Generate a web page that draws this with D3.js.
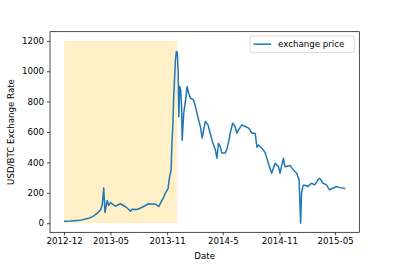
<!DOCTYPE html>
<html>
<head>
<meta charset="utf-8">
<script src="https://cdn.jsdelivr.net/npm/d3@7"></script>
<style>
  body { margin: 0; background: #fff; }
  text { font-family: "DejaVu Sans", sans-serif; }
</style>
</head>
<body>
<div id="holder"></div>
<script>
const w = 399;
const h = 266;

// Chart data
const dates = [
  "2012-12-01", "2012-12-23", "2013-01-24", "2013-02-19", "2013-03-08", "2013-03-19",
  "2013-03-30", "2013-04-04", "2013-04-09", "2013-04-13", "2013-04-20", "2013-04-25",
  "2013-05-01", "2013-05-17", "2013-06-02", "2013-06-19", "2013-06-24", "2013-07-05",
  "2013-07-10", "2013-07-27", "2013-08-12", "2013-09-02", "2013-09-24", "2013-10-05",
  "2013-10-10", "2013-10-21", "2013-10-26", "2013-11-04", "2013-11-09", "2013-11-14",
  "2013-11-17", "2013-11-20", "2013-11-22", "2013-11-25", "2013-11-28", "2013-12-01",
  "2013-12-04", "2013-12-07", "2013-12-09", "2013-12-12", "2013-12-15", "2013-12-18",
  "2013-12-20", "2013-12-25", "2013-12-31", "2014-01-05", "2014-01-10", "2014-01-16",
  "2014-01-26", "2014-02-01", "2014-02-10", "2014-02-17", "2014-02-23", "2014-02-28",
  "2014-03-05", "2014-03-14", "2014-03-21", "2014-03-27", "2014-04-01", "2014-04-07",
  "2014-04-12", "2014-04-17", "2014-04-23", "2014-04-28", "2014-05-09", "2014-05-15",
  "2014-05-20", "2014-05-25", "2014-06-02", "2014-06-10", "2014-06-16", "2014-06-21",
  "2014-07-02", "2014-07-13", "2014-07-24", "2014-08-04", "2014-08-14", "2014-08-20",
  "2014-08-25", "2014-09-10", "2014-09-16", "2014-09-26", "2014-10-07", "2014-10-18",
  "2014-10-29", "2014-11-03", "2014-11-14", "2014-11-19", "2014-12-06", "2014-12-16",
  "2014-12-27", "2015-01-04", "2015-01-09", "2015-01-12", "2015-01-17", "2015-01-22",
  "2015-02-02", "2015-02-13", "2015-02-24", "2015-03-06", "2015-03-12", "2015-03-23",
  "2015-04-03", "2015-04-13", "2015-04-24", "2015-05-05", "2015-05-16", "2015-06-03"
];
const prices = [
  13, 14, 20, 32, 48, 66,
  88, 120, 232, 70, 149, 118,
  135, 112, 128, 108, 100, 78,
  92, 90, 105, 128, 125, 110,
  130, 172, 197, 228, 305, 350,
  548, 658, 811, 943, 1074, 1129,
  1127, 989, 700, 900, 877, 767,
  545, 724, 811, 899, 855, 822,
  811, 767, 691, 635, 559, 614,
  669, 647, 592, 548, 515, 482,
  427, 526, 504, 461, 461, 493,
  537, 592, 658, 636, 592, 614,
  647, 636, 625, 592, 592, 500,
  515, 482, 461, 395, 329, 395,
  372, 329, 427, 372, 380, 351,
  329, 285, 0, 197, 250, 250,
  241, 263, 252, 285, 296, 263,
  252, 219, 230, 241, 234, 228
];

// highlighted period
const spanStart = "2012-12-01";
const spanEnd = "2013-12-04";
const spanLow = 0;
const spanHigh = 1200;

const yTicks = [0, 200, 400, 600, 800, 1000, 1200];
const xTickDates = ["2012-12-01", "2013-05-01", "2013-11-01", "2014-05-01", "2014-11-01", "2015-05-01"];
const xTickLabels = ["2012-12", "2013-05", "2013-11", "2014-5", "2014-11", "2015-05"];

const parse = d3.timeParse("%Y-%m-%d");
const data = dates.map((d, i) => ({ date: parse(d), price: prices[i] }));

// plot area
const mLeft = 50, mRight = 359.3, mTop = 31.7, mBottom = 232.3;
const fs = 8.66;

const svg = d3.select("#holder")
    .append("svg")
    .attr("width", w)
    .attr("height", h)

// matplotlib style 5% margins
const xExt = d3.extent(data, d => d.date);
const xPad = (xExt[1] - xExt[0]) * 0.05;
const x = d3.scaleTime()
    .domain([new Date(+xExt[0] - xPad), new Date(+xExt[1] + xPad)])
    .range([mLeft, mRight])

const yPad = (spanHigh - spanLow) * 0.05;
const y = d3.scaleLinear()
    .domain([spanLow - yPad, spanHigh + yPad])
    .range([mBottom, mTop])

// shaded span
svg.append("rect")
    .attr("x", x(parse(spanStart)))
    .attr("y", y(spanHigh))
    .attr("width", x(parse(spanEnd)) - x(parse(spanStart)))
    .attr("height", y(spanLow) - y(spanHigh))
    .attr("fill", "#fff0c8")

// price line
const line = d3.line()
    .x(d => x(d.date))
    .y(d => y(d.price))

svg.append("path")
    .datum(data)
    .attr("d", line)
    .attr("fill", "none")
    .attr("stroke", "#1f77b4")
    .attr("stroke-width", 1.5)
    .attr("stroke-linejoin", "round")

// axes
const xAxis = d3.axisBottom(x)
    .tickValues(xTickDates.map(parse))
    .tickFormat((d, i) => xTickLabels[i])
    .tickSize(3)
    .tickPadding(3)

svg.append("g")
    .attr("transform", `translate(0,${mBottom})`)
    .call(xAxis)
    .call(g => g.select(".domain").remove())
    .call(g => g.selectAll("text").attr("font-size", fs).attr("fill", "#000").attr("font-family", "DejaVu Sans"))
    .call(g => g.selectAll("line").attr("stroke", "#000").attr("stroke-width", 0.7))

const yAxis = d3.axisLeft(y)
    .tickValues(yTicks)
    .tickFormat(d3.format("d"))
    .tickSize(3)
    .tickPadding(3)

svg.append("g")
    .attr("transform", `translate(${mLeft},0)`)
    .call(yAxis)
    .call(g => g.select(".domain").remove())
    .call(g => g.selectAll("text").attr("font-size", fs).attr("fill", "#000").attr("font-family", "DejaVu Sans"))
    .call(g => g.selectAll("line").attr("stroke", "#000").attr("stroke-width", 0.7))

// frame
svg.append("rect")
    .attr("x", mLeft)
    .attr("y", mTop)
    .attr("width", mRight - mLeft)
    .attr("height", mBottom - mTop)
    .attr("fill", "none")
    .attr("stroke", "#000")
    .attr("stroke-width", 0.7)

// axis labels
svg.append("text")
    .attr("x", (mLeft + mRight) / 2)
    .attr("y", 259)
    .attr("text-anchor", "middle")
    .attr("font-size", fs)
    .text("Date")

svg.append("text")
    .attr("transform", `translate(14,${(mTop + mBottom) / 2}) rotate(-90)`)
    .attr("text-anchor", "middle")
    .attr("font-size", fs)
    .text("USD/BTC Exchange Rate")

// legend
const lg = svg.append("g")
lg.append("rect")
    .attr("x", 250)
    .attr("y", 36)
    .attr("width", 104.5)
    .attr("height", 16.5)
    .attr("rx", 2)
    .attr("fill", "#fff")
    .attr("fill-opacity", 0.8)
    .attr("stroke", "#cccccc")
    .attr("stroke-width", 0.7)
lg.append("line")
    .attr("x1", 253.5)
    .attr("x2", 271)
    .attr("y1", 44.2)
    .attr("y2", 44.2)
    .attr("stroke", "#1f77b4")
    .attr("stroke-width", 1.5)
lg.append("text")
    .attr("x", 278)
    .attr("y", 47.3)
    .attr("font-size", fs)
    .text("exchange price")
</script>
</body>
</html>
